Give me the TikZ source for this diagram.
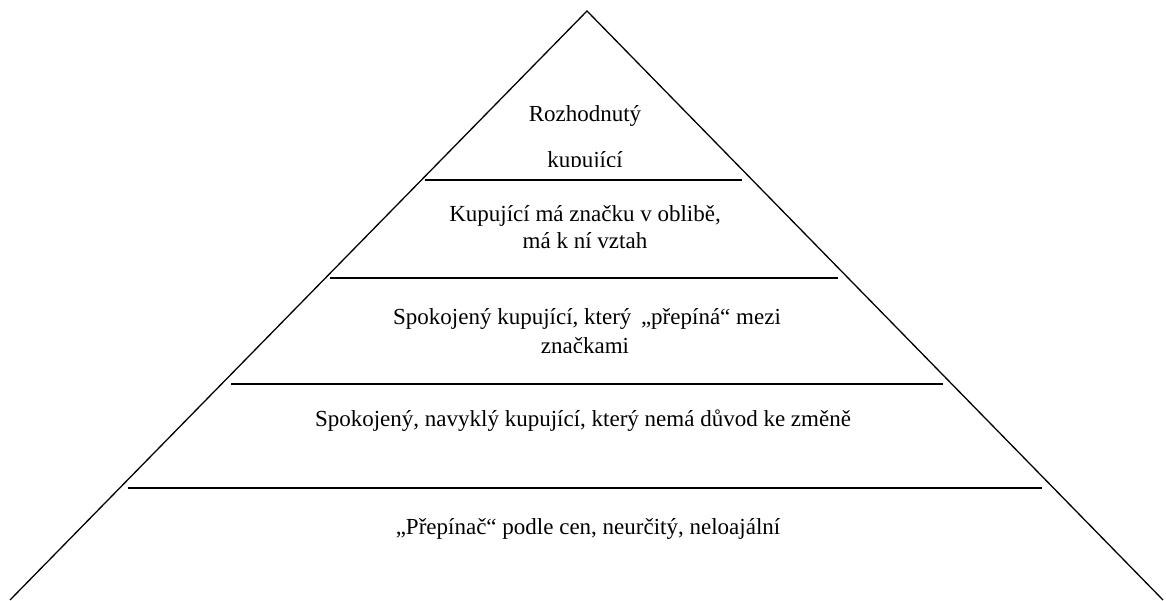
\documentclass[tikz,border=0pt]{standalone}
\usepackage{fontspec}
\setmainfont{Liberation Serif}

\begin{document}
\begin{tikzpicture}[x=1pt, y=-1pt,
    edge/.style={line width=1.3pt},
    level/.style={line width=2pt},
    caption/.style={anchor=base, inner sep=0pt, font=\fontsize{23}{28}\selectfont}]
  \useasboundingbox (0,0) rectangle (1166,601);
  % pyramid outline
  \coordinate (apex) at (587,11);
  \coordinate (bl) at (10,600);
  \coordinate (br) at (1163,600);
  \draw[edge] (bl) -- (apex) -- (br);
  % level dividers
  \foreach \y/\xa/\xb in {180/425/742, 278/330/838, 384/231/943, 488/128/1042}
    \draw[level] (\xa,\y) -- (\xb,\y);
  % texts
  \node[caption] (top1) at (585,122) {Rozhodnutý};
  \begin{scope}
    \clip (0,0) rectangle (1166,167);
    \node[caption] (top2) at (585,168) {kupující};
  \end{scope}
  \node[caption] (fan1) at (585,222) {Kupující má značku v oblibě,};
  \node[caption] (fan2) at (585,249) {má k ní vztah};
  \node[caption] (sw1) at (587,324) {Spokojený kupující, který \,„přepíná“ mezi};
  \begin{scope}
    \clip (0,0) rectangle (1166,352);
    \node[caption] (sw2) at (585,353) {značkami};
  \end{scope}
  \node[caption] (hab) at (583,426) {Spokojený, navyklý kupující, který nemá důvod ke změně};
  \node[caption] (price) at (588,534) {„Přepínač“ podle cen, neurčitý, neloajální};
\end{tikzpicture}
\end{document}
